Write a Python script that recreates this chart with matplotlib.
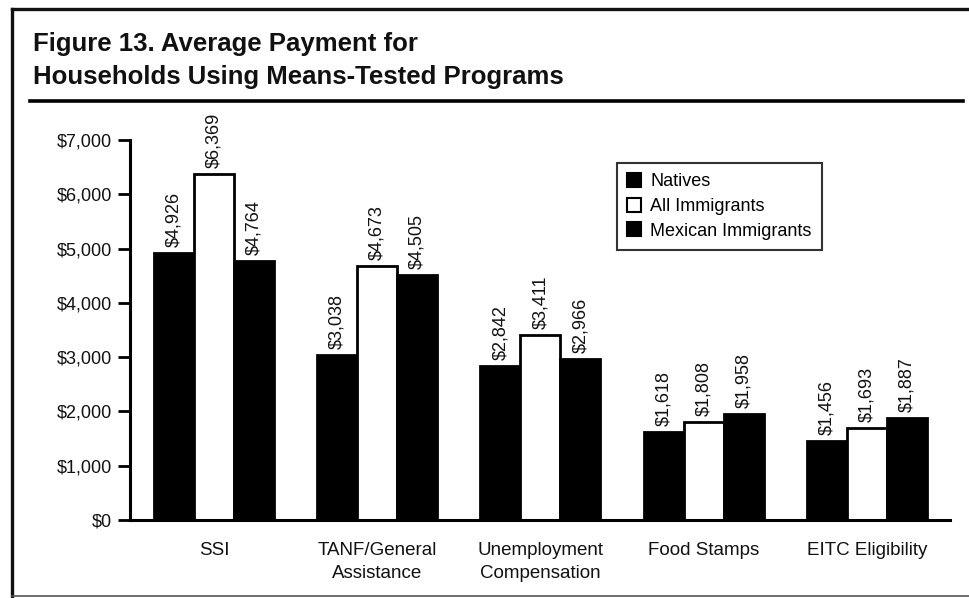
import matplotlib
matplotlib.use("Agg")
import matplotlib.pyplot as plt
from matplotlib.patches import Patch
from matplotlib.lines import Line2D

categories = ["SSI", "TANF/General\nAssistance", "Unemployment\nCompensation",
              "Food Stamps", "EITC Eligibility"]
series_names = ["Natives", "All Immigrants", "Mexican Immigrants"]
natives = [4926, 3038, 2842, 1618, 1456]
all_immigrants = [6369, 4673, 3411, 1808, 1693]
mexican_immigrants = [4764, 4505, 2966, 1958, 1887]
y_ticks = [0, 1000, 2000, 3000, 4000, 5000, 6000, 7000]

plt.rcParams["font.family"] = ["Liberation Sans", "DejaVu Sans"]

W, H = 969, 598
fig = plt.figure(figsize=(W / 100, H / 100), dpi=100)
fig.patch.set_facecolor("white")


def fx(px):
    return px / W


def fy(py):
    return 1 - py / H


# frame around the figure (open on the right) and the rule under the title
fig.add_artist(Line2D([fx(12), fx(12)], [fy(9), fy(596)], transform=fig.transFigure,
                      color="#111111", lw=2.4))
fig.add_artist(Line2D([fx(12), 1.0], [fy(9), fy(9)], transform=fig.transFigure,
                      color="#111111", lw=2.4))
fig.add_artist(Line2D([fx(12), 1.0], [fy(596), fy(596)], transform=fig.transFigure,
                      color="#555555", lw=1.2))
fig.add_artist(Line2D([fx(30), fx(963)], [fy(101), fy(101)], transform=fig.transFigure,
                      color="black", lw=2.6))

fig.text(fx(33), fy(44), "Figure 13. Average Payment for", fontsize=18.5,
         fontweight="bold", ha="left", va="center", color="#111111")
fig.text(fx(33), fy(77), "Households Using Means-Tested Programs", fontsize=18.5,
         fontweight="bold", ha="left", va="center", color="#111111")

ax = fig.add_axes([fx(130), fy(520), (950 - 130) / W, (520 - 140) / H])
x = list(range(len(categories)))
w = 0.245
offsets = [-0.245, 0.0, 0.245]
colors = ["black", "white", "black"]
for vals, off, col in zip([natives, all_immigrants, mexican_immigrants], offsets, colors):
    pos = [i + off for i in x]
    ax.bar(pos, vals, width=w, color=col, edgecolor="black", linewidth=2.0, zorder=2)
    for p, v in zip(pos, vals):
        ax.text(p, v + 110, f"${v:,}", rotation=90, ha="center", va="bottom",
                fontsize=13, color="#111111", clip_on=False)

ax.set_xlim(-0.515, 4.51)
ax.set_ylim(0, 7000)
ax.set_yticks(y_ticks)
ax.set_yticklabels([f"${t:,}" for t in y_ticks], fontsize=13, color="#111111")
ax.set_xticks(x)
ax.set_xticklabels(categories, fontsize=13.5, color="#111111", linespacing=1.45)
ax.tick_params(axis="x", length=0, pad=16)
ax.tick_params(axis="y", length=9, width=2, pad=4, direction="out")
for s in ["top", "right"]:
    ax.spines[s].set_visible(False)
for s in ["left", "bottom"]:
    ax.spines[s].set_linewidth(2.2)
    ax.spines[s].set_color("black")

handles = [Patch(facecolor=c, edgecolor="black", linewidth=1.5) for c in colors]
leg = ax.legend(handles, series_names, loc="upper left",
                bbox_to_anchor=((617 - 130) / (950 - 130), (520 - 163) / 380),
                fontsize=13, frameon=True, fancybox=False, handlelength=0.8,
                handleheight=0.8, handletextpad=0.5, borderpad=0.55, labelspacing=0.42,
                borderaxespad=0)
leg.get_frame().set_edgecolor("black")
leg.get_frame().set_linewidth(1.5)

fig.savefig("out.png", dpi=100, facecolor="white")
